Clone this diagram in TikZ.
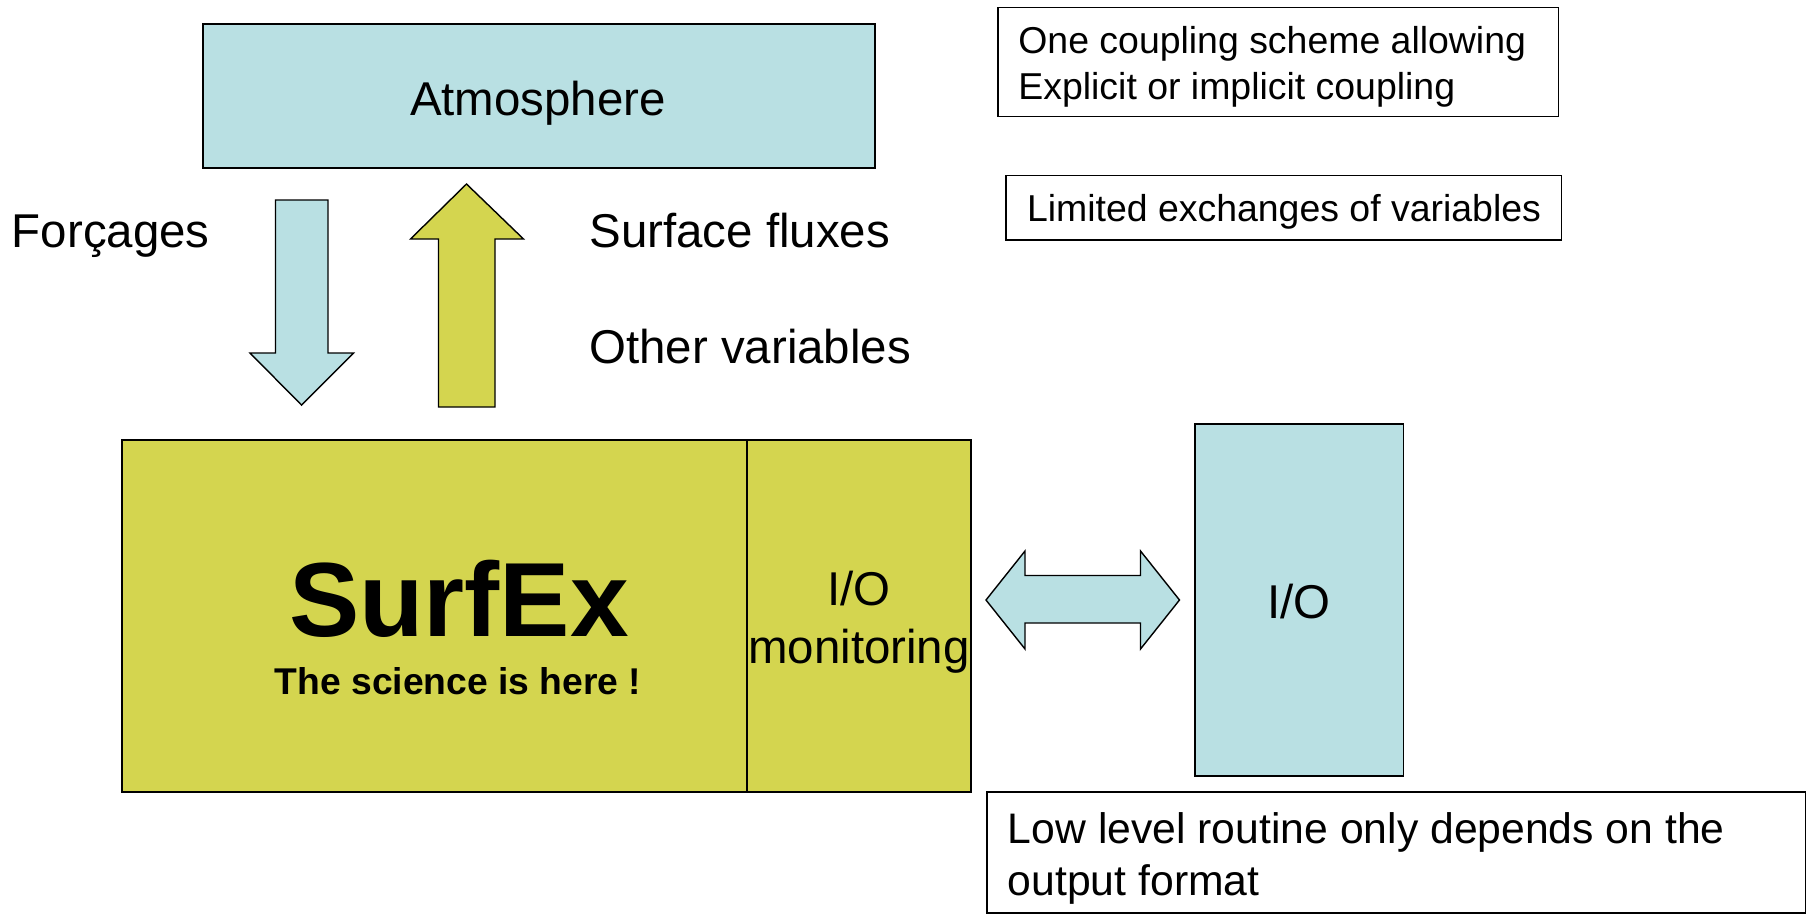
\documentclass[tikz,border=0pt]{standalone}
\usepackage{xcolor}
\usepackage{fontspec}
\setmainfont{Liberation Sans}
\usepackage{tikz}
\usetikzlibrary{positioning}

\definecolor{atmoblue}{RGB}{185,224,227}
\definecolor{surfolive}{RGB}{212,213,79}

\begin{document}
\begin{tikzpicture}[
    box/.style={draw, line width=1pt, inner sep=0pt, outer sep=0pt},
    note/.style={draw, line width=0.8pt, inner sep=0pt, fill=white},
    bigtxt/.style={inner sep=0pt, font={\fontsize{27}{33}\selectfont}},
    notetxt/.style={inner sep=0pt, align=left, font={\fontsize{21.3}{26.2}\selectfont}},
    lowtxt/.style={inner sep=0pt, align=left, font={\fontsize{24.3}{29.6}\selectfont}},
    fatarrow/.style={draw, line width=0.8pt, line join=miter}
]
\useasboundingbox (0,0) rectangle (36.2,-18.32);

% top: atmosphere
\node[box, fill=atmoblue, minimum width=13.44cm, minimum height=2.88cm] (atmos) at (10.78,-1.92) {};
\node[bigtxt, anchor=base] (atmoslbl) at (10.76,-2.30) {Atmosphere};

% exchanges between atmosphere and surface
\draw[fatarrow, fill=atmoblue] (5.51,-4.00) -- (6.56,-4.00) -- (6.56,-7.06) -- (7.07,-7.06)
    -- (6.03,-8.10) -- (5.00,-7.06) -- (5.51,-7.06) -- cycle;
\draw[fatarrow, fill=surfolive] (8.77,-8.14) -- (8.77,-4.78) -- (8.21,-4.78) -- (9.33,-3.68)
    -- (10.47,-4.78) -- (9.90,-4.78) -- (9.90,-8.14) -- cycle;
\node[bigtxt, anchor=base west] (forcing) at (0.23,-4.94) {Forçages};
\node[bigtxt, anchor=base west] (fluxes) at (11.78,-4.94) {Surface fluxes};
\node[bigtxt, anchor=base west] (othervar) at (11.78,-7.26) {Other variables};

% notes (base of a two-line label = its last line)
\node[note, minimum width=11.21cm, minimum height=2.18cm] (coupling) at (25.565,-1.24) {};
\node[notetxt, anchor=base west] (couplinglbl) at (20.36,-1.986) {One coupling scheme allowing\\Explicit or implicit coupling};
\node[note, minimum width=11.11cm, minimum height=1.29cm] (limited) at (25.675,-4.155) {};
\node[notetxt, anchor=base] (limitedlbl) at (25.68,-4.434) {Limited exchanges of variables};

% surfex
\node[box, fill=surfolive, minimum width=12.5cm, minimum height=7.04cm] (surfex) at (8.69,-12.32) {};
\node[box, fill=surfolive, minimum width=4.48cm, minimum height=7.04cm, right=0pt of surfex] (iomon) {};
\node[inner sep=0pt, anchor=base, font={\fontsize{60}{66}\selectfont\bfseries}] (surfexlbl) at (9.18,-12.72) {SurfEx};
\node[inner sep=0pt, anchor=base, font={\fontsize{21.2}{26}\selectfont\bfseries}] (sciencelbl) at (9.16,-13.88) {The science is here !};
\node[bigtxt, anchor=base] (iomonlbl1) at (17.18,-12.10) {I/O};
\node[bigtxt, anchor=base] (iomonlbl2) at (17.18,-13.26) {monitoring};

% low level i/o
\draw[fatarrow, fill=atmoblue] (19.72,-12.00) -- (20.50,-11.02) -- (20.50,-11.51) -- (22.81,-11.51)
    -- (22.81,-11.02) -- (23.59,-12.00) -- (22.81,-12.98) -- (22.81,-12.46) -- (20.50,-12.46)
    -- (20.50,-12.98) -- cycle;
\node[box, fill=atmoblue, minimum width=4.17cm, minimum height=7.04cm] (io) at (25.985,-12.00) {};
\node[bigtxt, anchor=base] (iolbl) at (25.98,-12.36) {I/O};
\node[note, minimum width=16.37cm, minimum height=2.42cm] (lowlevel) at (27.925,-17.05) {};
\node[lowtxt, anchor=base west] (lowlevellbl) at (20.15,-17.90) {Low level routine only depends on the\\output format};
\end{tikzpicture}
\end{document}
